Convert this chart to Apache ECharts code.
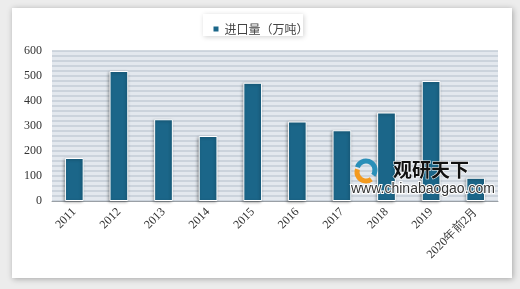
<!DOCTYPE html>
<html><head><meta charset="utf-8">
<script src="https://cdn.jsdelivr.net/npm/echarts@6/dist/echarts.min.js"></script>
<style>html,body{margin:0;padding:0;background:#ececec;}#c{width:520px;height:289px;}</style>
</head><body><div id="c"></div>
<script>
var categories = ['2011','2012','2013','2014','2015','2016','2017','2018','2019','2020年前2月'];
var imports = [172, 520, 327, 260, 473, 318, 283, 354, 480, 93];
var seriesName = '进口量（万吨）';
var yTicks = [0, 600, 100];

var chart = echarts.init(document.getElementById('c'));
chart.setOption({
  backgroundColor: '#ececec',
  animation: false,
  graphic: [
    {type:'rect', z:-10, shape:{x:12,y:8,width:500,height:270}, style:{fill:'#ffffff', shadowBlur:6, shadowColor:'rgba(0,0,0,0.3)', shadowOffsetX:1, shadowOffsetY:1}},
    {type:'rect', z:-5, shape:{x:203,y:14,width:100,height:22}, style:{fill:'#ffffff', shadowBlur:5, shadowColor:'rgba(0,0,0,0.18)', shadowOffsetX:1, shadowOffsetY:1}},
    {type:'arc', z:100, shape:{cx:366,cy:170,r:9,startAngle:-Math.PI*0.9,endAngle:Math.PI*0.2}, style:{fill:'none', stroke:'#2a8fb8', lineWidth:5}},
    {type:'arc', z:100, shape:{cx:366,cy:172,r:9,startAngle:Math.PI*0.3,endAngle:Math.PI*1.1}, style:{fill:'none', stroke:'#f39a1e', lineWidth:5}},
    {type:'text', z:100, x:393, y:160, style:{text:'观研天下', font:'bold 19px "Noto Sans CJK SC"', fill:'#111', stroke:'#ffffff', lineWidth:1}},
    {type:'text', z:100, x:351, y:182, style:{text:'www.chinabaogao.com', font:'14px "Liberation Sans"', fill:'#333', stroke:'#ffffff', lineWidth:2}}
  ],
  legend: {
    top: 18, left: 'center',
    itemWidth: 7, itemHeight: 7, itemGap: 4,
    icon: 'rect',
    textStyle: {fontSize: 12, color: '#444', fontFamily: '"Noto Sans CJK SC"'},
    data: [seriesName]
  },
  grid: {left: 52, right: 22, top: 51, bottom: 88, show: true, backgroundColor: '#e3e8ee', borderWidth: 0},
  xAxis: {
    type: 'category', data: categories,
    axisLine: {show: true, lineStyle: {color: '#9aa0a6', width: 1}},
    axisTick: {show: false},
    axisLabel: {rotate: 45, color: '#333', fontSize: 12, fontFamily: '"Liberation Serif"', margin: 9, interval: 0}
  },
  yAxis: {
    type: 'value', min: yTicks[0], max: yTicks[1], interval: yTicks[2],
    axisLine: {show: false}, axisTick: {show: false},
    axisLabel: {color: '#333', fontSize: 12, fontFamily: '"Liberation Serif"', margin: 10},
    splitLine: {show: true, lineStyle: {color: '#c3ccd6', width: 1.5}},
    minorTick: {show: false, splitNumber: 5},
    minorSplitLine: {show: true, lineStyle: {color: '#c3ccd6', width: 1.5}}
  },
  series: [{
    name: seriesName, type: 'bar', data: imports, barWidth: '42%',
    itemStyle: {color: '#1b6689', borderColor: '#ffffff', borderWidth: 1,
      shadowBlur: 3, shadowColor: 'rgba(0,0,0,0.35)', shadowOffsetX: -1, shadowOffsetY: 1}
  }]
});
</script></body></html>
